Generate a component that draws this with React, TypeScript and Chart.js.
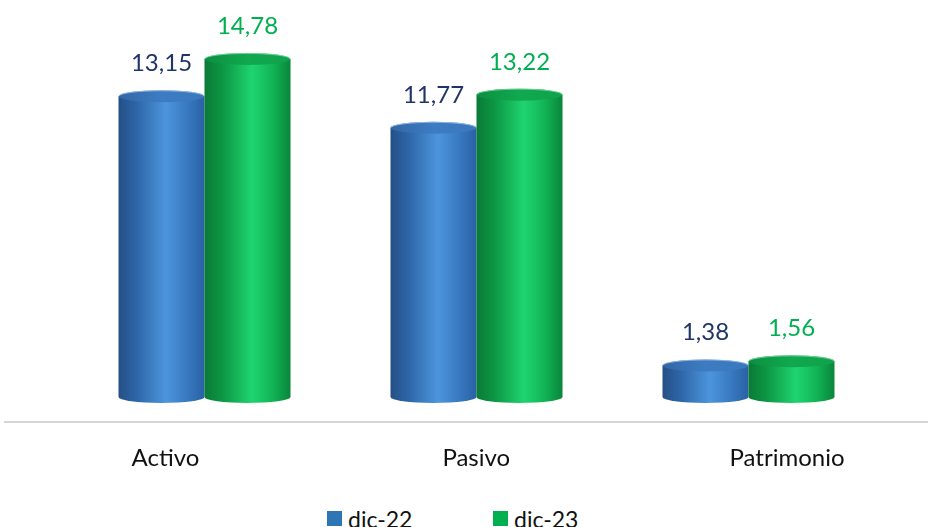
import React, { useEffect, useRef } from 'react';
import { Chart, registerables } from 'chart.js';

Chart.register(...registerables);

const categories = ['Activo', 'Pasivo', 'Patrimonio'];
const seriesNames = ['dic-22', 'dic-23'];
const dic22 = [13.15, 11.77, 1.38];
const dic23 = [14.78, 13.22, 1.56];
const seriesValues = [dic22, dic23];

const legendColors = ['#2E75B6', '#00B050'];
const labelColors = ['#1F3468', '#00B050'];

const palettes = [
  {
    body: [
      [0, '#244f87'],
      [0.22, '#2f67a9'],
      [0.55, '#4c95dd'],
      [0.78, '#3a7bc3'],
      [1, '#2961a3'],
    ],
    top: [
      [0, '#3266a6'],
      [0.5, '#3d7cc2'],
      [1, '#3a78bd'],
    ],
    rim: 'rgba(150,185,230,0.9)',
  },
  {
    body: [
      [0, '#0a7a36'],
      [0.22, '#0d9845'],
      [0.55, '#1fd470'],
      [0.78, '#12b657'],
      [1, '#09863b'],
    ],
    top: [
      [0, '#0c8f41'],
      [0.5, '#11a84f'],
      [1, '#10a24c'],
    ],
    rim: 'rgba(120,215,160,0.9)',
  },
];

const fmt = (v: number) => v.toFixed(2).replace('.', ',');

const cylinderPlugin = {
  id: 'cylinders',
  beforeDatasetDraw() {
    return false;
  },
  afterDatasetsDraw(chart: any) {
    const ctx: CanvasRenderingContext2D = chart.ctx;
    chart.data.datasets.forEach((ds: any, di: number) => {
      const meta = chart.getDatasetMeta(di);
      const pal = palettes[di];
      meta.data.forEach((el: any, i: number) => {
        const { x, y, base, width } = el.getProps(['x', 'y', 'base', 'width'], true);
        const rx = width / 2;
        const ry = 6;
        const left = x - rx;
        const right = x + rx;
        ctx.save();
        const g = ctx.createLinearGradient(left, 0, right, 0);
        pal.body.forEach(([o, c]: any) => g.addColorStop(o, c));
        ctx.beginPath();
        ctx.moveTo(left, y);
        ctx.lineTo(left, base);
        ctx.ellipse(x, base, rx, ry, 0, Math.PI, 0, true);
        ctx.lineTo(right, y);
        ctx.closePath();
        ctx.fillStyle = g;
        ctx.fill();

        const tg = ctx.createLinearGradient(left, 0, right, 0);
        pal.top.forEach(([o, c]: any) => tg.addColorStop(o, c));
        ctx.beginPath();
        ctx.ellipse(x, y, rx, ry, 0, 0, Math.PI * 2);
        ctx.fillStyle = tg;
        ctx.fill();
        ctx.beginPath();
        ctx.ellipse(x, y, rx - 0.5, ry - 0.5, 0, Math.PI, Math.PI * 2);
        ctx.strokeStyle = pal.rim;
        ctx.lineWidth = 1;
        ctx.stroke();

        ctx.fillStyle = labelColors[di];
        ctx.font = '24px Lato';
        ctx.textAlign = 'center';
        ctx.textBaseline = 'alphabetic';
        ctx.fillText(fmt(seriesValues[di][i]), x, y - 25);
        ctx.restore();
      });
    });
  },
};

export default function App() {
  const ref = useRef<HTMLCanvasElement>(null);

  useEffect(() => {
    document.body.style.margin = '0';
    const canvas = ref.current;
    if (!canvas) return;
    const chart = new Chart(canvas, {
      type: 'bar',
      data: {
        datasets: seriesNames.map((name, di) => ({
          label: name,
          data: seriesValues[di].map((v, i) => ({ x: i, y: v })),
          backgroundColor: legendColors[di],
          barThickness: 86,
        })),
      },
      options: {
        responsive: false,
        animation: false,
        layout: { padding: { left: 5, right: 0, top: 10, bottom: 0 } },
        plugins: {
          legend: { display: false },
          tooltip: { enabled: false },
        },
        scales: {
          x: {
            type: 'linear',
            display: false,
            offset: false,
            min: -0.7335,
            max: 2.66,
          },
          x2: {
            type: 'linear',
            position: 'bottom',
            offset: false,
            min: -0.5165,
            max: 2.4537,
            grid: { display: false, drawTicks: false, offset: false },
            border: { display: true, color: '#d6d6d6', width: 2 },
            afterBuildTicks: (scale: any) => {
              scale.ticks = categories.map((_, i) => ({ value: i }));
            },
            afterFit: (scale: any) => {
              scale.height = 58;
            },
            ticks: {
              padding: 22,
              color: '#111111',
              font: { family: 'Lato', size: 24 },
              maxRotation: 0,
              autoSkip: false,
              callback: (v: any) => categories[Math.round(Number(v))] ?? '',
            },
          },
          y: {
            display: false,
            min: -1.093,
            max: 16.92,
          },
        },
      },
      plugins: [cylinderPlugin],
    } as any);
    return () => chart.destroy();
  }, []);

  return (
    <div style={{ position: 'relative', width: 928, height: 527, overflow: 'hidden', background: '#ffffff' }}>
      <canvas ref={ref} width={928} height={480} style={{ display: 'block' }} />
      {seriesNames.map((name, i) => (
        <div
          key={name}
          style={{
            position: 'absolute',
            top: 508,
            left: i === 0 ? 327 : 493,
            display: 'flex',
            alignItems: 'flex-start',
            whiteSpace: 'nowrap',
          }}
        >
          <span style={{ display: 'inline-block', width: 15, height: 15, marginTop: 3, background: legendColors[i] }} />
          <span style={{ marginLeft: 6, font: '23px Lato', lineHeight: '23px', color: '#111111' }}>{name}</span>
        </div>
      ))}
    </div>
  );
}
